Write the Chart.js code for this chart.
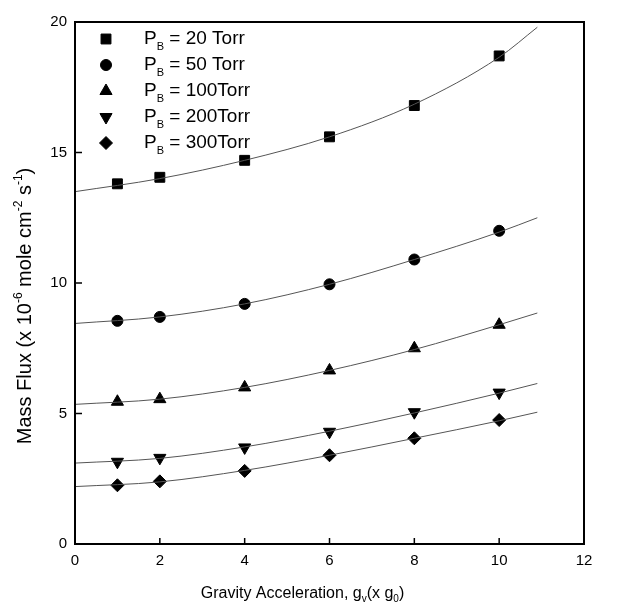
<!DOCTYPE html>
<html>
<head>
<meta charset="utf-8">
<title>Mass Flux vs Gravity Acceleration</title>
<script src="https://cdn.jsdelivr.net/npm/chart.js@4/dist/chart.umd.min.js"></script>
<style>
  html, body { margin: 0; padding: 0; background: #fff; }
  #wrap { width: 624px; height: 606px; }
</style>
</head>
<body>
<div id="wrap"><canvas id="fluxChart" width="624" height="606"></canvas></div>
<script>
// measured points
const gravity = [1, 2, 4, 6, 8, 10];
const flux20 = [13.8, 14.05, 14.7, 15.6, 16.8, 18.7];
const flux50 = [8.55, 8.7, 9.2, 9.95, 10.9, 12.0];
const flux100 = [5.45, 5.55, 6.0, 6.65, 7.5, 8.4];
const flux200 = [3.15, 3.3, 3.7, 4.3, 5.05, 5.8];
const flux300 = [2.25, 2.4, 2.8, 3.4, 4.05, 4.75];

// fitted curves
const fitX = [0, 2, 4, 6, 8, 10, 10.9];
const fit20 = [13.5, 14.0, 14.7, 15.6, 16.85, 18.65, 19.8];
const fit50 = [8.45, 8.7, 9.2, 9.95, 10.9, 11.95, 12.5];
const fit100 = [5.35, 5.55, 6.0, 6.65, 7.45, 8.4, 8.85];
const fit200 = [3.1, 3.28, 3.72, 4.32, 5.02, 5.78, 6.15];
const fit300 = [2.2, 2.38, 2.82, 3.4, 4.05, 4.72, 5.05];

const pressures = ["20 Torr", "50 Torr", "100Torr", "200Torr", "300Torr"];
const xTicks = [0, 2, 4, 6, 8, 10, 12];
const yTicks = [0, 5, 10, 15, 20];

const FONT = "'Liberation Sans', Arial, sans-serif";

function toPoints(xs, ys) {
  return xs.map(function (x, i) { return { x: x, y: ys[i] }; });
}

const markers = [
  { style: "rect", radius: 7, rotation: 0 },
  { style: "circle", radius: 5.5, rotation: 0 },
  { style: "triangle", radius: 7, rotation: 0 },
  { style: "triangle", radius: 7, rotation: 180 },
  { style: "rectRot", radius: 6.5, rotation: 0 }
];

const pointSeries = [flux20, flux50, flux100, flux200, flux300];
const fitSeries = [fit20, fit50, fit100, fit200, fit300];

var datasets = [];
fitSeries.forEach(function (fit, i) {
  datasets.push({
    label: "fit " + pressures[i],
    data: toPoints(fitX, fit),
    showLine: true,
    borderColor: "#555",
    borderWidth: 1,
    pointRadius: 0,
    cubicInterpolationMode: "monotone",
    fill: false
  });
});
pointSeries.forEach(function (vals, i) {
  datasets.push({
    label: "P_B = " + pressures[i],
    data: toPoints(gravity, vals),
    showLine: false,
    pointStyle: markers[i].style,
    pointRadius: markers[i].radius,
    pointRotation: markers[i].rotation,
    backgroundColor: "#000",
    borderColor: "#000",
    borderWidth: 1
  });
});

// draw text made of pieces: [text, size, shift]
function drawRich(ctx, parts, x, y, align) {
  var total = 0;
  parts.forEach(function (p) {
    ctx.font = p[1] + "px " + FONT;
    total += ctx.measureText(p[0]).width;
  });
  var cx = align === "center" ? x - total / 2 : x;
  parts.forEach(function (p) {
    ctx.font = p[1] + "px " + FONT;
    ctx.fillText(p[0], cx, y + (p[2] || 0));
    cx += ctx.measureText(p[0]).width;
  });
}

const framePlugin = {
  id: "frame",
  afterDraw: function (chart) {
    var ctx = chart.ctx;
    var a = chart.chartArea;
    var xs = chart.scales.x, ys = chart.scales.y;
    ctx.save();
    ctx.strokeStyle = "#000";
    ctx.lineWidth = 2;
    ctx.strokeRect(a.left, a.top, a.right - a.left, a.bottom - a.top);
    ctx.lineWidth = 1.5;
    ctx.beginPath();
    xs.ticks.forEach(function (t) {
      var px = xs.getPixelForValue(t.value);
      ctx.moveTo(px, a.bottom);
      ctx.lineTo(px, a.bottom - 6);
    });
    ys.ticks.forEach(function (t) {
      var py = ys.getPixelForValue(t.value);
      ctx.moveTo(a.left, py);
      ctx.lineTo(a.left + 7, py);
    });
    ctx.stroke();

    ctx.fillStyle = "#000";
    ctx.textBaseline = "alphabetic";
    // x title
    drawRich(ctx, [
      ["Gravity Acceleration, g", 16, 0],
      ["v", 10, 4],
      ["(x g", 16, 0],
      ["0", 10, 4],
      [")", 16, 0]
    ], (a.left + a.right) / 2 - 27, 598, "center");

    // y title
    ctx.save();
    ctx.translate(31, (a.top + a.bottom) / 2 + 23);
    ctx.rotate(-Math.PI / 2);
    drawRich(ctx, [
      ["Mass Flux (x 10", 20, 0],
      ["-6", 12, -9],
      [" mole cm", 20, 0],
      ["-2", 12, -9],
      [" s", 20, 0],
      ["-1", 12, -9],
      [")", 20, 0]
    ], 0, 0, "center");
    ctx.restore();

    // legend
    var draw = (Chart.helpers && Chart.helpers.drawPoint) ? Chart.helpers.drawPoint : null;
    pressures.forEach(function (p, i) {
      var rowY = a.top + 17 + i * 26;
      var m = markers[i];
      if (draw) {
        ctx.fillStyle = "#000";
        ctx.strokeStyle = "#000";
        ctx.lineWidth = 1;
        draw(ctx, { pointStyle: m.style, radius: m.radius, rotation: m.rotation, borderWidth: 1 }, a.left + 31, rowY);
      }
      ctx.fillStyle = "#000";
      ctx.textBaseline = "middle";
      drawRich(ctx, [
        ["P", 19, 0],
        ["B", 11, 8],
        [" = " + p, 19, 0]
      ], a.left + 69, rowY, "left");
    });
    ctx.restore();
  }
};

var ctxFlux = document.getElementById("fluxChart").getContext("2d");
var fluxChart = new Chart(ctxFlux, {
  type: "scatter",
  data: { datasets: datasets },
  options: {
    responsive: false,
    animation: false,
    devicePixelRatio: 1,
    layout: { padding: { top: 22, right: 40, left: 0, bottom: 0 } },
    plugins: {
      legend: { display: false },
      tooltip: { enabled: false }
    },
    scales: {
      x: {
        type: "linear",
        min: 0,
        max: 12,
        afterBuildTicks: function (scale) {
          scale.ticks = xTicks.map(function (v) { return { value: v }; });
        },
        afterFit: function (scale) { scale.height = 62; },
        grid: { display: false, drawTicks: false },
        border: { display: false },
        ticks: { color: "#000", padding: 8, font: { family: FONT, size: 15 } }
      },
      y: {
        type: "linear",
        min: 0,
        max: 20,
        afterBuildTicks: function (scale) {
          scale.ticks = yTicks.map(function (v) { return { value: v }; });
        },
        afterFit: function (scale) { scale.width = 75; },
        grid: { display: false, drawTicks: false },
        border: { display: false },
        ticks: { color: "#000", padding: 8, font: { family: FONT, size: 15 } }
      }
    }
  },
  plugins: [framePlugin]
});
</script>
</body>
</html>
